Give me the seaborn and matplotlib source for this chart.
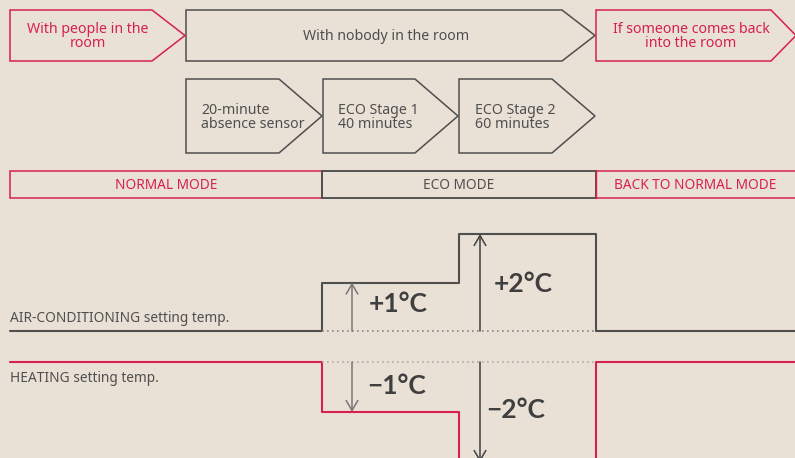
import matplotlib
matplotlib.use("Agg")
import matplotlib.pyplot as plt
from matplotlib.patches import Polygon, Rectangle
import seaborn as sns
import pandas as pd

# ---------------- data ----------------
top_labels = ["With people in the\nroom", "With nobody in the room", "If someone comes back\ninto the room"]
stage_labels = ["20-minute\nabsence sensor", "ECO Stage 1\n40 minutes", "ECO Stage 2\n60 minutes"]
mode_labels = ["NORMAL MODE", "ECO MODE", "BACK TO NORMAL MODE"]
series_names = ["AIR-CONDITIONING setting temp.", "HEATING setting temp."]
phase_edges = [10, 322, 459, 596, 795]          # schematic time boundaries
ac_offset = [0, 1, 2, 0, 0]                      # °C
heat_offset = [0, -1, -2, 0, 0]                  # °C
delta_labels_ac = ["+1°C", "+2°C"]
delta_labels_heat = ["\u22121°C", "\u22122°C"]

# ---------------- style ----------------
BG = "#e9e1d5"
RED = "#d7204c"
GRAY = "#4f4f4f"
sns.set_theme(style="white")
plt.rcParams["font.family"] = ["Noto Sans", "DejaVu Sans"]

W, H = 795, 458
fig = plt.figure(figsize=(W / 100, H / 100), dpi=100)
fig.patch.set_facecolor(BG)

ax = fig.add_axes([0, 0, 1, 1])
ax.set_xlim(0, W)
ax.set_ylim(H, 0)
ax.axis("off")
ax.set_facecolor(BG)


def pentagon(x0, x1, xt, y0, y1, color, lw=1.1):
    yc = (y0 + y1) / 2
    pts = [(x0, y0), (x1, y0), (xt, yc), (x1, y1), (x0, y1)]
    ax.add_patch(Polygon(pts, closed=True, fill=False, edgecolor=color, lw=lw, joinstyle="miter"))


# top row
y0, y1 = 10, 61
pentagon(10, 152, 185, y0, y1, RED)
pentagon(186, 562, 595, y0, y1, GRAY)
pentagon(596, 771, 796, y0, y1, RED)
fs = 10.2
ax.text(88, 36.5, top_labels[0], color=RED, ha="center", va="center", fontsize=fs, linespacing=0.95)
ax.text(386, 36.5, top_labels[1], color=GRAY, ha="center", va="center", fontsize=fs)
ax.text(691, 36.5, top_labels[2], color=RED, ha="center", va="center", fontsize=fs, linespacing=0.95)

# second row
y0, y1 = 79, 153
pentagon(186, 279, 322, y0, y1, GRAY)
pentagon(323, 415, 458, y0, y1, GRAY)
pentagon(459, 552, 595, y0, y1, GRAY)
for xt, lab in zip([201, 338, 475], stage_labels):
    ax.text(xt, 117.5, lab, color=GRAY, ha="left", va="center", fontsize=fs, linespacing=0.95)

# mode bar
my0, my1 = 171, 198
mode_cols = [RED, GRAY, RED]
mode_edges = [phase_edges[0], phase_edges[1], phase_edges[3], 800]
for i, (lab, c) in enumerate(zip(mode_labels, mode_cols)):
    xa, xb = mode_edges[i], mode_edges[i + 1]
    ax.add_patch(Rectangle((xa, my0), xb - xa, my1 - my0, fill=False, edgecolor=c, lw=1.1))
    ax.text((xa + min(xb, W)) / 2, 185.5, lab, color=c, ha="center", va="center", fontsize=9.8)
ax.add_patch(Rectangle((322, my0), 274, my1 - my0, fill=False, edgecolor=GRAY, lw=1.1))
ax.plot([596, 596], [my0, my1], color=RED, lw=1.0)

# series labels
ax.text(10, 318, series_names[0], color=GRAY, ha="left", va="center", fontsize=9.9)
ax.text(10, 378.5, series_names[1], color=GRAY, ha="left", va="center", fontsize=9.9)

# ---------------- step lines ----------------
# AC axes: 0°C at y=331 px, 48.5 px per °C
ac_base, ac_scale = 331, 48.5
ax_ac = fig.add_axes([0, 0, 1, 1], facecolor="none")
ax_ac.set_xlim(0, W)
ax_ac.set_ylim((ac_base - H) / ac_scale, ac_base / ac_scale)
ax_ac.axis("off")
df_ac = pd.DataFrame({"x": phase_edges, "y": ac_offset})
sns.lineplot(data=df_ac, x="x", y="y", ax=ax_ac, color=GRAY, lw=1.5,
             drawstyle="steps-post", estimator=None, sort=False)
ax_ac.plot([phase_edges[1], phase_edges[3]], [0, 0], color="#8a8580", lw=1.2, ls=(0, (1, 2)))

# Heating axes: 0°C at y=362 px, 50 px per °C
ht_base, ht_scale = 362, 50
ax_ht = fig.add_axes([0, 0, 1, 1], facecolor="none")
ax_ht.set_xlim(0, W)
ax_ht.set_ylim((ht_base - H) / ht_scale, ht_base / ht_scale)
ax_ht.axis("off")
df_ht = pd.DataFrame({"x": phase_edges, "y": heat_offset})
sns.lineplot(data=df_ht, x="x", y="y", ax=ax_ht, color=RED, lw=1.5,
             drawstyle="steps-post", estimator=None, sort=False)
ax_ht.plot([phase_edges[1], phase_edges[3]], [0, 0], color="#b0aba5", lw=1.2, ls=(0, (1, 2)))

# arrows and delta labels
arrow_x = [352, 480]
arrow_cols = ["#7a7774", "#3f3f3f"]
ac_lab_pos = [(398, 0.55), (523, 0.96)]
ht_lab_pos = [(397, -0.49), (516, -0.95)]
bold = dict(family=["Lato", "DejaVu Sans"], fontweight="bold", fontsize=19)
for k in range(2):
    ax_ac.annotate("", xy=(arrow_x[k], ac_offset[k + 1]), xytext=(arrow_x[k], 0),
                   annotation_clip=False,
                   arrowprops=dict(arrowstyle="->,head_length=0.6,head_width=0.35",
                                   color=arrow_cols[k], lw=1.1, shrinkA=0, shrinkB=0))
    ax_ht.annotate("", xy=(arrow_x[k], heat_offset[k + 1]), xytext=(arrow_x[k], 0),
                   annotation_clip=False,
                   arrowprops=dict(arrowstyle="->,head_length=0.6,head_width=0.35",
                                   color=arrow_cols[k], lw=1.1, shrinkA=0, shrinkB=0))
    ax_ac.text(*ac_lab_pos[k], delta_labels_ac[k], color="#3f3f3f", ha="center", va="center", **bold)
    ax_ht.text(*ht_lab_pos[k], delta_labels_heat[k], color="#3f3f3f", ha="center", va="center", **bold)

fig.savefig("out.png", dpi=100, facecolor=BG)
